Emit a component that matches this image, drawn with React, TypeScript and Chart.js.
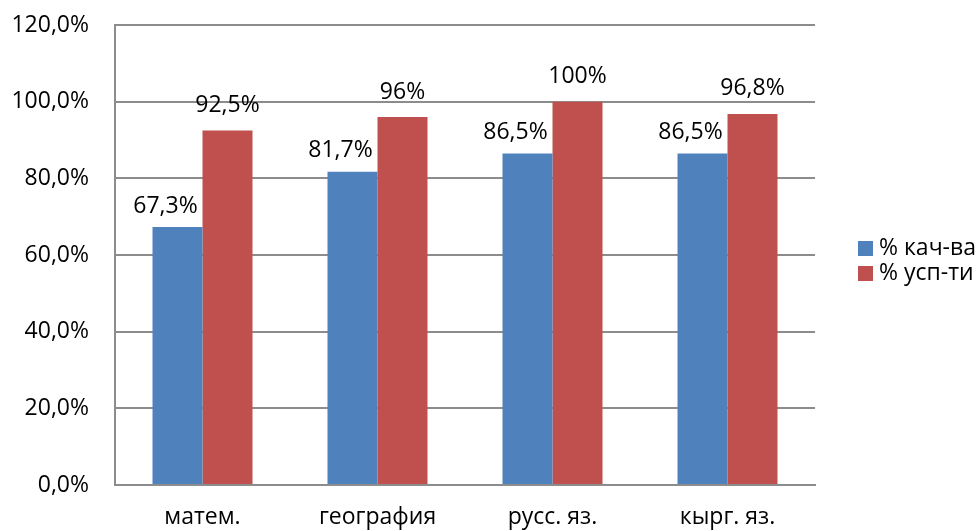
import React, { useEffect, useRef } from "react";
import { Chart, registerables } from "chart.js";

Chart.register(...registerables);

const categories = ["матем.", "география", "русс. яз.", "кырг. яз."];
const qualityValues = [67.3, 81.7, 86.5, 86.5];
const successValues = [92.5, 96, 100, 96.8];
const qualityLabels = ["67,3%", "81,7%", "86,5%", "86,5%"];
const successLabels = ["92,5%", "96%", "100%", "96,8%"];
const seriesNames = ["% кач-ва", "% усп-ти"];
const yTicks = [0, 20, 40, 60, 80, 100, 120];

const BLUE = "#4F81BD";
const RED = "#C0504D";
const GRID = "#8c8c8c";
const FONT = "'Open Sans', sans-serif";
const FONT_SIZE = 23;

const valueLabelPlugin = {
  id: "valueLabels",
  afterDatasetsDraw(chart: any) {
    const ctx = chart.ctx;
    ctx.save();
    ctx.font = `${FONT_SIZE}px ${FONT}`;
    ctx.fillStyle = "#000";
    ctx.textAlign = "center";
    ctx.textBaseline = "middle";
    const offsets = [
      { dx: -12, dy: -21 },
      { dx: 0, dy: -25 },
    ];
    chart.data.datasets.forEach((ds: any, di: number) => {
      const meta = chart.getDatasetMeta(di);
      const labels: string[] = ds.valueLabels;
      meta.data.forEach((el: any, i: number) => {
        ctx.fillText(labels[i], el.x + offsets[di].dx, el.y + offsets[di].dy);
      });
    });
    ctx.restore();
  },
};

const legendPlugin = {
  id: "customLegend",
  afterDraw(chart: any) {
    const ctx = chart.ctx;
    ctx.save();
    ctx.font = `${FONT_SIZE}px ${FONT}`;
    ctx.textAlign = "left";
    ctx.textBaseline = "middle";
    const x = 858;
    const y0 = 248;
    chart.data.datasets.forEach((ds: any, i: number) => {
      const y = y0 + i * 25;
      ctx.fillStyle = ds.backgroundColor;
      ctx.fillRect(x, y - 7, 15, 15);
      ctx.fillStyle = "#000";
      ctx.fillText(ds.label, x + 21, y);
    });
    ctx.restore();
  },
};

export default function App() {
  const canvasRef = useRef<HTMLCanvasElement | null>(null);

  useEffect(() => {
    if (!canvasRef.current) return;
    const chart = new Chart(canvasRef.current, {
      type: "bar",
      data: {
        labels: categories,
        datasets: [
          {
            label: seriesNames[0],
            data: qualityValues,
            backgroundColor: BLUE,
            valueLabels: qualityLabels,
            categoryPercentage: 100 / 175,
            barPercentage: 1,
          } as any,
          {
            label: seriesNames[1],
            data: successValues,
            backgroundColor: RED,
            valueLabels: successLabels,
            categoryPercentage: 100 / 175,
            barPercentage: 1,
          } as any,
        ],
      },
      options: {
        animation: false,
        responsive: true,
        maintainAspectRatio: false,
        layout: { padding: { top: 25, right: 163, left: 0, bottom: 0 } },
        plugins: {
          legend: { display: false },
          tooltip: { enabled: false },
        },
        scales: {
          x: {
            grid: { display: false, drawTicks: false },
            border: { display: true, color: GRID, width: 2 },
            ticks: {
              color: "#000",
              font: { family: FONT, size: FONT_SIZE },
              padding: 19,
            },
            afterFit(scale: any) {
              scale.height = 46;
              scale.paddingLeft = 0;
              scale.paddingRight = 0;
            },
          },
          y: {
            min: 0,
            max: 120,
            afterBuildTicks(scale: any) {
              scale.ticks = yTicks.map((v) => ({ value: v }));
            },
            grid: { color: GRID, lineWidth: 2, drawTicks: false },
            border: { display: true, color: GRID, width: 2 },
            ticks: {
              color: "#000",
              font: { family: FONT, size: FONT_SIZE },
              padding: 26,
              callback: (v: any) => Number(v).toFixed(1).replace(".", ",") + "%",
            },
            afterFit(scale: any) {
              scale.width = 115;
              scale.paddingTop = 0;
              scale.paddingBottom = 0;
            },
          },
        },
      },
      plugins: [valueLabelPlugin, legendPlugin],
    });
    return () => chart.destroy();
  }, []);

  return (
    <div style={{ position: "fixed", left: 0, top: 0, width: 978, height: 531, background: "#fff" }}>
      <canvas ref={canvasRef} />
    </div>
  );
}
